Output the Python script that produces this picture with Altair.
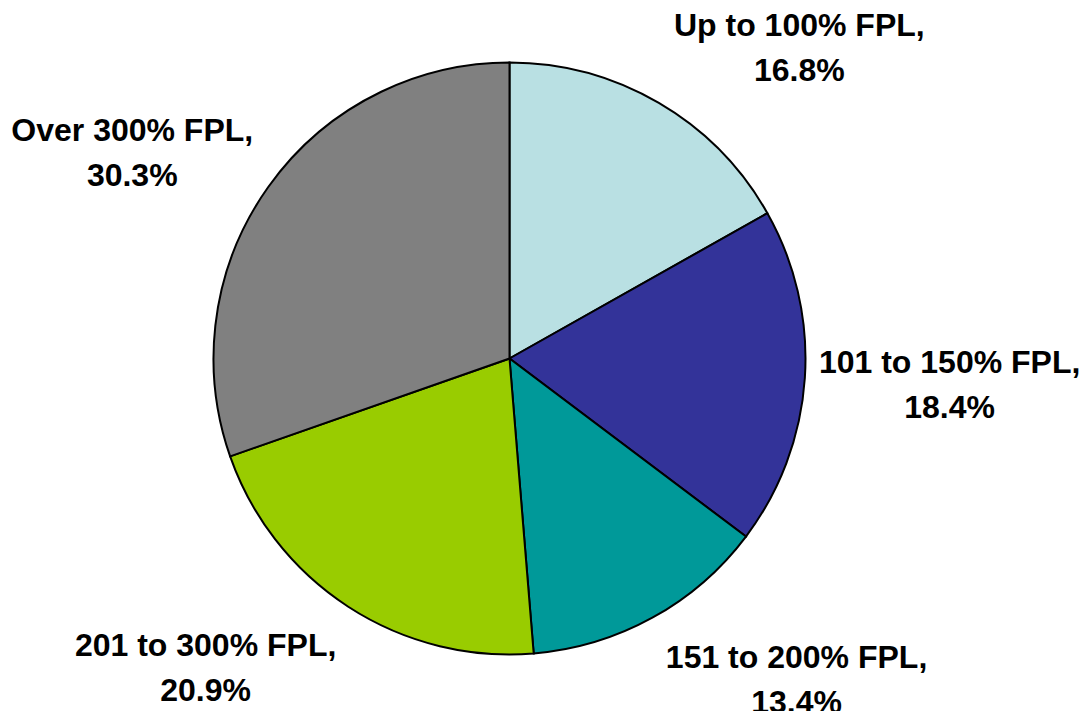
import altair as alt
import pandas as pd

categories = ["Up to 100% FPL", "101 to 150% FPL", "151 to 200% FPL",
              "201 to 300% FPL", "Over 300% FPL"]
shares = [16.8, 18.4, 13.4, 20.9, 30.3]
colors = ["#B9E0E3", "#333399", "#009999", "#99CC00", "#808080"]

df = pd.DataFrame({
    "category": categories,
    "share": shares,
    "order": list(range(len(categories))),
})
df["label"] = [f"{c},\n{s:.1f}%" for c, s in zip(categories, shares)]

pie = alt.Chart(df).mark_arc(outerRadius=296, stroke="black", strokeWidth=2).encode(
    theta=alt.Theta("share:Q", stack=True),
    order=alt.Order("order:Q"),
    color=alt.Color("category:N", scale=alt.Scale(domain=categories, range=colors), legend=None),
)

text_base = alt.Chart(df).transform_stack(
    stack="share", groupby=[], as_=["s0", "s1"],
    sort=[alt.SortField("order", order="ascending")],
).transform_calculate(mid="(datum.s0 + datum.s1) / 2")

# label nudges (style offsets from the slice mid-angle)
nudges = [(88, 13), (41, -22), (94, -51), (-86, -48), (-51, 4)]
layers = [pie]
for cat, (dx, dy) in zip(categories, nudges):
    layers.append(
        text_base.transform_filter(alt.datum.category == cat).mark_text(
            radius=400, dx=dx, dy=dy, font="Liberation Sans", fontWeight="bold",
            fontSize=32, lineBreak="\n", lineHeight=45, align="center",
            baseline="middle", color="black"
        ).encode(theta=alt.Theta("mid:Q", stack=None), text="label:N")
    )

chart = alt.layer(*layers).properties(
    width=1003, height=701,
    padding={"left": 0, "top": 0, "right": 71, "bottom": 2},
    autosize=alt.AutoSizeParams(type="none"),
).configure_view(stroke=None)

chart.save("out.html", embed_options={"renderer": "svg", "actions": False})
